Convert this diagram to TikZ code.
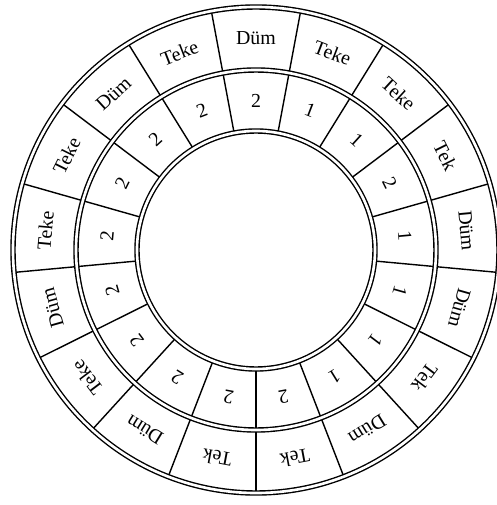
\documentclass[tikz,border=0pt]{standalone}
\usepackage{fontspec}
\setmainfont{Liberation Serif}

\begin{document}
\begin{tikzpicture}[ring/.style={double, double distance=1.5pt, line width=0.8pt},
  beat/.style={font=\fontsize{11.3}{13}\selectfont, inner sep=0pt}]
  \useasboundingbox (-5.12,-5.1) rectangle (4.8,5.0);
  \foreach \k in {0,...,16}
    \draw[line width=0.8pt] ({90-(\k+0.5)*360/17}:2.38) -- ({90-(\k+0.5)*360/17}:4.86);
  \draw[ring] (0,0) circle (4.86);
  \draw[ring] (0,0) circle (3.6);
  \draw[ring] (0,0) circle (2.38);
  \foreach \w [count=\k from 0] in {Düm,Teke,Teke,Tek,Düm,Düm,Tek,Düm,Tek,Tek,Düm,Teke,Düm,Teke,Teke,Düm,Teke} {
    \pgfmathsetmacro\a{90-\k*360/17}
    \node[beat, rotate={\a-90}] (outer\k) at (\a:4.23) {\w};
  }
  \foreach \n [count=\k from 0] in {2,1,1,2,1,1,1,1,2,2,2,2,2,2,2,2,2} {
    \pgfmathsetmacro\a{90-\k*360/17}
    \node[beat, rotate={\a-90}] (inner\k) at (\a:2.99) {\n};
  }
\end{tikzpicture}
\end{document}
